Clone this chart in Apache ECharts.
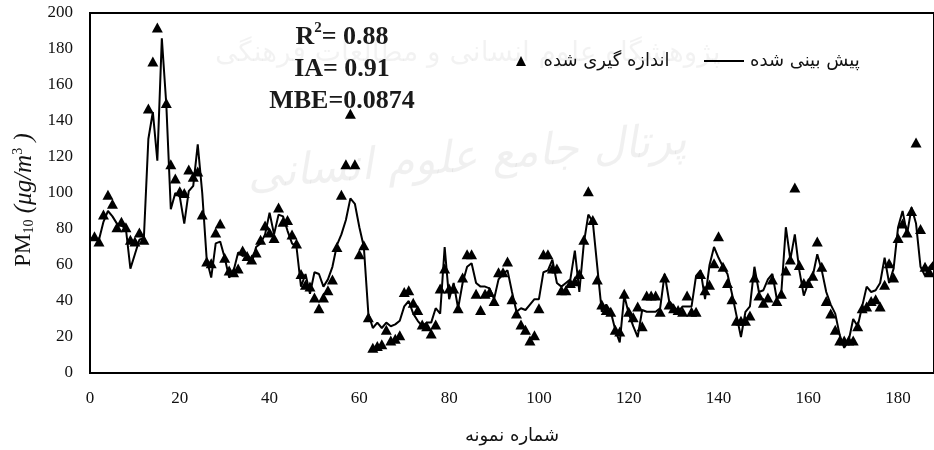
<!DOCTYPE html>
<html>
<head>
<meta charset="utf-8">
<script src="https://cdn.jsdelivr.net/npm/echarts@6/dist/echarts.min.js"></script>
<style>html,body{margin:0;padding:0;background:#fff;}#c{width:934px;height:450px;}</style>
</head>
<body>
<div id="c"></div>
<script>
// Measured (triangles), index = sample number; null = not visible
const measured = [null,76,73,88,99,94,81,84,81,74,73,78,74,147,173,192,null,150,116,108,
101,100,113,109,112,88,62,61,78,83,64,57,56,58,68,65,63,67,74,82,
78,75,92,84,85,77,72,55,49,48,42,36,42,46,52,70,99,116,144,116,
66,71,31,14,15,16,24,18,19,21,45,46,39,35,27,26,22,27,47,58,
47,47,36,53,66,66,44,35,44,45,40,56,56,62,41,33,27,24,18,21,
36,66,66,58,58,46,46,50,51,55,74,101,85,52,38,35,34,24,23,44,
34,31,37,26,43,43,43,34,53,38,36,35,34,43,34,34,55,46,49,61,
76,59,50,41,29,29,29,32,53,43,39,42,52,40,44,57,63,103,60,50,
50,54,73,59,40,33,24,18,18,18,18,26,36,37,40,41,37,49,61,53,
75,83,78,90,128,80,59,56,60];
// Predicted (line)
const predicted = [75,74,74,84,90,87,83,82,80,58,66,74,75,130,145,118,186,149,91,100,
98,83,101,104,127,100,63,53,72,73,64,53,57,67,65,66,61,70,72,77,
89,77,88,87,79,72,70,48,55,44,56,55,48,52,59,71,77,85,97,94,
81,70,33,25,28,25,28,26,27,29,37,40,33,29,26,28,28,36,33,70,
41,50,36,50,59,61,50,48,48,47,41,52,55,57,45,34,36,35,38,41,
41,56,57,63,50,48,50,52,68,45,72,88,84,59,34,38,34,24,17,43,
33,26,20,35,34,34,34,36,55,40,37,34,37,37,37,54,57,41,60,70,
64,59,55,44,32,20,34,37,59,45,46,52,55,41,45,81,63,77,57,43,
50,54,66,57,45,38,33,21,14,18,30,26,37,48,45,46,50,64,50,58,
81,90,77,92,83,59,54,59,62];
const xTicks = [0,20,40,60,80,100,120,140,160,180];
const yTicks = [0,20,40,60,80,100,120,140,160,180,200];
const seriesNames = ['پیش بینی شده','اندازه گیری شده'];
const xTitle = 'شماره نمونه';
const statsLines = ['R{sup|2}= 0.88','IA= 0.91','MBE=0.0874'];

const measuredPts = measured.map((v,i)=>[i,v]).filter(p=>p[1]!==null);
const predictedPts = predicted.map((v,i)=>[i,v]);

const serif = '"Liberation Serif","Times New Roman",serif';
const fa = '"DejaVu Sans",sans-serif';

const chart = echarts.init(document.getElementById('c'), null, {renderer:'canvas'});
chart.setOption({
  animation:false,
  backgroundColor:'#fff',
  grid:{left:90,right:-1,top:13,bottom:68,show:true,borderColor:'#000',borderWidth:2,backgroundColor:'transparent'},
  xAxis:{
    type:'value',min:xTicks[0],max:188,interval:20,
    name:xTitle,nameLocation:'middle',nameGap:54,
    nameTextStyle:{fontFamily:fa,fontSize:18,color:'#111'},
    axisLine:{show:true,lineStyle:{color:'#000',width:2}},
    axisTick:{show:false},splitLine:{show:false},
    axisLabel:{fontFamily:serif,fontSize:17,color:'#111',margin:17,showMaxLabel:false,
      formatter:v=>xTicks.includes(v)?String(v):''}
  },
  yAxis:{
    type:'value',min:yTicks[0],max:yTicks[yTicks.length-1],interval:20,
    name:'PM{sub|10}{it| (μg/m}{sup|3}{it| )}',nameLocation:'middle',nameGap:53,nameRotate:90,
    nameTextStyle:{fontFamily:serif,fontSize:23,color:'#111',padding:[0,14,0,0],
      rich:{sub:{fontFamily:serif,fontSize:14,verticalAlign:'bottom',padding:[9,0,0,0],color:'#111'},
            sup:{fontFamily:serif,fontSize:14,verticalAlign:'top',padding:[0,0,9,0],color:'#111'},
            it:{fontFamily:serif,fontSize:25,fontStyle:'italic',color:'#111'}}},
    axisLine:{show:true,lineStyle:{color:'#000',width:2}},
    axisTick:{show:false},splitLine:{show:false},
    axisLabel:{fontFamily:serif,fontSize:17,color:'#111',margin:17}
  },
  legend:[
    {data:[seriesNames[1]],left:511,top:47,itemWidth:11,itemHeight:10,
     icon:'path://M5,0 L10,10 L0,10 Z',
     textStyle:{fontFamily:fa,fontSize:18,color:'#111',padding:[0,0,0,12]}},
    {data:[{name:seriesNames[0],icon:'rect'}],left:699,top:47,itemWidth:40,itemHeight:2,
     itemStyle:{color:'#000'},
     textStyle:{fontFamily:fa,fontSize:18,color:'#111',padding:[0,0,0,1]}}
  ],
  graphic:[
    {type:'text',left:'center',top:120,z:-10,silent:true,rotation:0.08,
     style:{text:'پرتال جامع علوم انسانی',font:'italic 44px "DejaVu Sans"',fill:'rgba(0,0,0,0.06)'}},
    {type:'text',left:215,top:40,z:-10,silent:true,
     style:{text:'پژوهشگاه علوم انسانی و مطالعات فرهنگی',font:'28px "DejaVu Sans"',fill:'rgba(0,0,0,0.05)'}},
    {type:'text',x:342,y:21,z:10,silent:true,
     style:{text:statsLines.join('\n'),align:'center',verticalAlign:'top',font:'bold 26px "Liberation Serif"',fill:'#1a1a1a',lineHeight:32,
       rich:{sup:{font:'bold 15px "Liberation Serif"',fill:'#1a1a1a',verticalAlign:'top',padding:[0,0,10,0]}}}}
  ],
  series:[
    {name:seriesNames[0],type:'line',data:predictedPts,symbol:'none',
     lineStyle:{color:'#000',width:2},itemStyle:{color:'#000'},z:2},
    {name:seriesNames[1],type:'scatter',data:measuredPts,symbol:'triangle',symbolSize:[11,10],
     itemStyle:{color:'#000',opacity:1},z:3}
  ]
});
</script>
</body>
</html>
